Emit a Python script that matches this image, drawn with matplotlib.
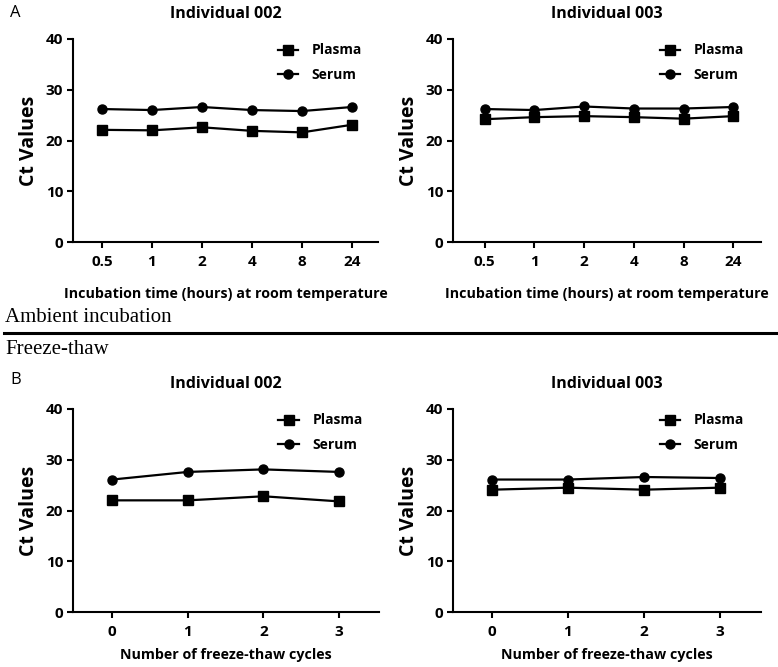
import matplotlib.pyplot as plt
from matplotlib.lines import Line2D

plt.rcParams["font.family"] = "Open Sans"
plt.rcParams["font.weight"] = "bold"

# data
hours = ["0.5", "1", "2", "4", "8", "24"]
cycles = ["0", "1", "2", "3"]

amb_002_plasma = [22.1, 22.0, 22.6, 21.9, 21.6, 23.1]
amb_002_serum = [26.2, 26.0, 26.6, 26.0, 25.8, 26.6]
amb_003_plasma = [24.2, 24.6, 24.8, 24.6, 24.3, 24.8]
amb_003_serum = [26.2, 26.0, 26.7, 26.3, 26.3, 26.6]

ft_002_plasma = [22.0, 22.0, 22.8, 21.8]
ft_002_serum = [26.1, 27.6, 28.1, 27.6]
ft_003_plasma = [24.1, 24.5, 24.1, 24.5]
ft_003_serum = [26.1, 26.1, 26.6, 26.4]

W, H = 778, 667
fig = plt.figure(figsize=(W / 100, H / 100), dpi=100)


def px_axes(x0, y0, x1, y1):
    return fig.add_axes([x0 / W, 1 - y1 / H, (x1 - x0) / W, (y1 - y0) / H])


def panel(ax, labels, plasma, serum, title, xlabel, xlim, lpad):
    xs = range(len(labels))
    ax.plot(xs, plasma, color="black", lw=1.6, marker="s", ms=6.5, label="Plasma", clip_on=False)
    ax.plot(xs, serum, color="black", lw=1.6, marker="o", ms=6.5, label="Serum", clip_on=False)
    ax.set_ylim(0, 40)
    ax.set_xlim(*xlim)
    ax.set_yticks([0, 10, 20, 30, 40])
    ax.set_xticks(list(xs))
    ax.set_xticklabels(labels)
    ax.spines["top"].set_visible(False)
    ax.spines["right"].set_visible(False)
    for s in ["left", "bottom"]:
        ax.spines[s].set_linewidth(1.5)
    ax.tick_params(direction="out", length=4, width=1.5, labelsize=11, pad=3)
    ax.tick_params(axis="x", pad=5)
    ax.set_title(title, fontsize=11.5, fontweight="bold", pad=15)
    ax.set_xlabel(xlabel, fontsize=10.3, fontweight="bold", labelpad=lpad)
    ax.set_ylabel("Ct Values", fontsize=14, fontweight="bold")
    ax.yaxis.set_label_coords(-0.11, 0.5)
    ax.legend(loc="upper left", bbox_to_anchor=(0.63, 1.04), frameon=False,
              handlelength=1.5, handletextpad=0.95, labelspacing=0.75,
              prop={"weight": "bold", "size": 10})


ax1 = px_axes(73, 39, 378, 242)
panel(ax1, hours, amb_002_plasma, amb_002_serum, "Individual 002",
      "Incubation time (hours) at room temperature", (-0.58, 5.52), 13)
ax2 = px_axes(453, 39, 761, 242)
panel(ax2, hours, amb_003_plasma, amb_003_serum, "Individual 003",
      "Incubation time (hours) at room temperature", (-0.64, 5.56), 13)
ax3 = px_axes(73, 409, 379, 612)
panel(ax3, cycles, ft_002_plasma, ft_002_serum, "Individual 002",
      "Number of freeze-thaw cycles", (-0.52, 3.53), 7)
ax4 = px_axes(453, 409, 761, 612)
panel(ax4, cycles, ft_003_plasma, ft_003_serum, "Individual 003",
      "Number of freeze-thaw cycles", (-0.51, 3.54), 7)

fig.text(10 / W, 1 - 13 / H, "A", fontsize=12, fontweight="normal", va="center")
fig.text(10 / W, 1 - 380 / H, "B", fontsize=12, fontweight="normal", va="center")
fig.text(5 / W, 1 - 318 / H, "Ambient incubation", family="Liberation Serif",
         fontweight="normal", fontsize=15, va="center")
fig.text(5 / W, 1 - 350 / H, "Freeze-thaw", family="Liberation Serif",
         fontweight="normal", fontsize=15, va="center")
fig.add_artist(Line2D([4 / W, 1], [1 - 333 / H, 1 - 333 / H], color="black", lw=2.2))

fig.savefig("out.png", dpi=100)
